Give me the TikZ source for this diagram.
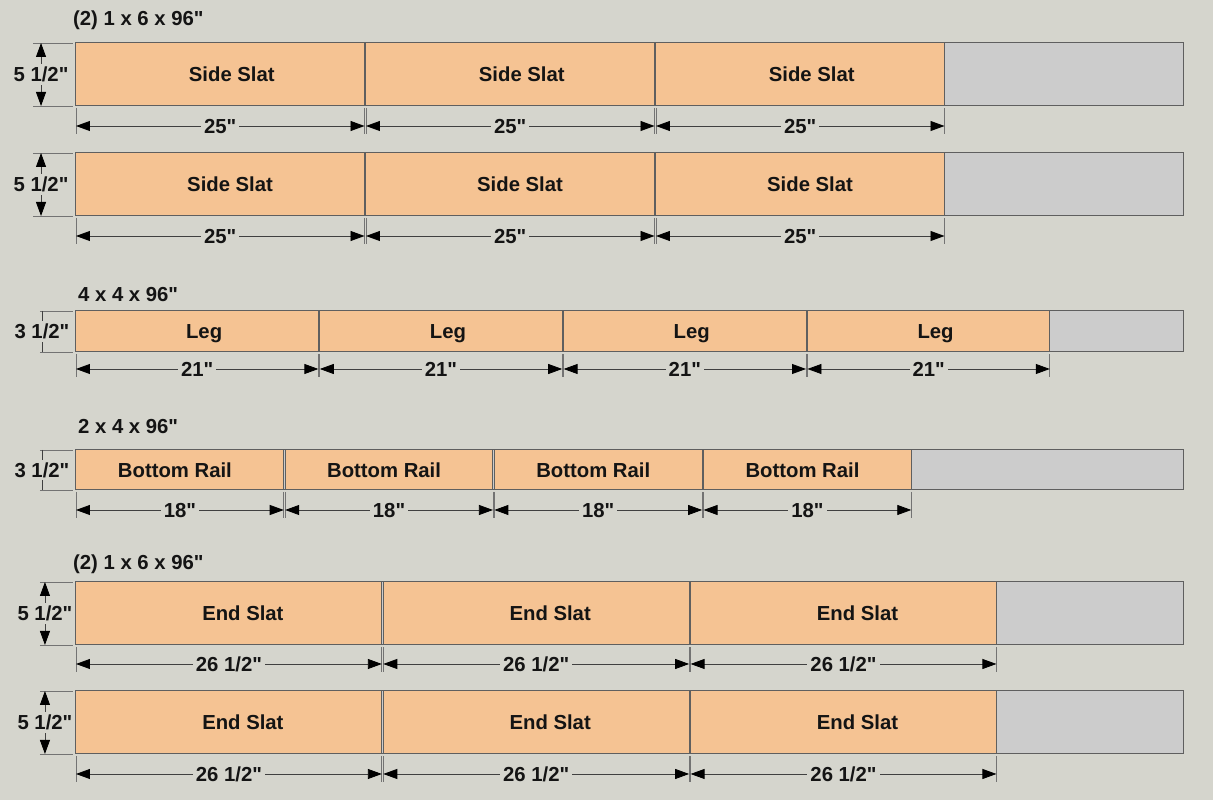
\documentclass[tikz,border=0pt]{standalone}
\usepackage{fontspec}
\setmainfont{Liberation Sans}[Ligatures=TeXOff]
\usetikzlibrary{arrows.meta}
\definecolor{bgcol}{RGB}{213,213,205}
\definecolor{wood}{RGB}{245,195,147}
\definecolor{waste}{RGB}{204,204,204}
\definecolor{edge}{RGB}{95,95,95}

\begin{document}
\begin{tikzpicture}[x=11.5417pt, y=-1pt,
    board/.style={fill=wood, draw=edge, line width=1pt},
    offcut/.style={fill=waste, draw=edge, line width=1pt},
    txt/.style={font=\fontsize{20.3}{23}\selectfont\bfseries, text=black!92, inner sep=0pt,
        text height=14.5pt, text depth=0pt},
    dimtxt/.style={txt, fill=bgcol, inner xsep=3pt, inner ysep=3pt},
    dimline/.style={draw=black!75, line width=0.8pt},
    extline/.style={draw=black!55, line width=0.8pt},
    tips/.style={{Triangle[length=14pt,width=10pt,color=black]}-{Triangle[length=14pt,width=10pt,color=black]}},
    vtall/.style={dimline, tips},
    vshort/.style={dimline}]
    \fill[bgcol] (-6.585,0) rectangle (98.515,800);
    \useasboundingbox (-6.585,0) rectangle (98.515,800);
    \def\kerf{0.125}
    % stock headers
    \node[txt, anchor=west] (head1) at (-0.26,18) {(2) 1 x 6 x 96"};
    \node[txt, anchor=west] (head2) at (0.17,294) {4 x 4 x 96"};
    \node[txt, anchor=west] (head3) at (0.17,426) {2 x 4 x 96"};
    \node[txt, anchor=west] (head4) at (-0.26,562) {(2) 1 x 6 x 96"};
    % one board per row: top, height, cut length, count, part, dimension, shift, dim y, thickness dim
    \foreach \row/\ytop/\hgt/\len/\n/\piece/\dimtext/\dx/\dy/\vx/\ex/\vs/\thick in {
        1/43/63/25/3/Side Slat/{25"}/1.0/126/-3.03/-3.72/vtall/{5 1/2"},
        2/153/63/25/3/Side Slat/{25"}/0.85/236/-3.03/-3.72/vtall/{5 1/2"},
        3/311/41/21/4/Leg/{21"}/0.6/369/-2.95/-3.12/vshort/{3 1/2"},
        4/450/40/18/4/Bottom Rail/{18"}/-0.43/510/-2.95/-3.12/vshort/{3 1/2"},
        5/582/63/26.5/3/End Slat/{26 1/2"}/1.21/664/-2.69/-3.12/vtall/{5 1/2"},
        6/691/63/26.5/3/End Slat/{26 1/2"}/1.21/774/-2.69/-3.12/vtall/{5 1/2"}}{
        \draw[offcut] (0,\ytop) rectangle (96,\ytop+\hgt);
        % thickness
        \draw[extline] (\ex,\ytop) -- (-0.26,\ytop);
        \draw[extline] (\ex,\ytop+\hgt) -- (-0.26,\ytop+\hgt);
        \draw[\vs] (\vx,\ytop) -- (\vx,\ytop+\hgt);
        \node[dimtxt] (thk\row) at (\vx,\ytop+\hgt/2) {\thick};
        \foreach \p in {1,...,\n}{
            \pgfmathsetmacro\a{(\p-1)*(\len+\kerf)}
            \pgfmathsetmacro\b{\a+\len}
            \draw[board] (\a,\ytop) rectangle (\b,\ytop+\hgt);
            \node[txt] (part\row-\p) at ({(\a+\b)/2+\dx},\ytop+\hgt/2) {\piece};
            \draw[extline] (\a,\ytop+\hgt+2) -- (\a,\dy+8);
            \draw[extline] (\b,\ytop+\hgt+2) -- (\b,\dy+8);
            \draw[dimline, tips] (\a,\dy) -- (\b,\dy);
            \node[dimtxt] (dim\row-\p) at ({(\a+\b)/2},\dy) {\dimtext};
        }
    }
\end{tikzpicture}
\end{document}
